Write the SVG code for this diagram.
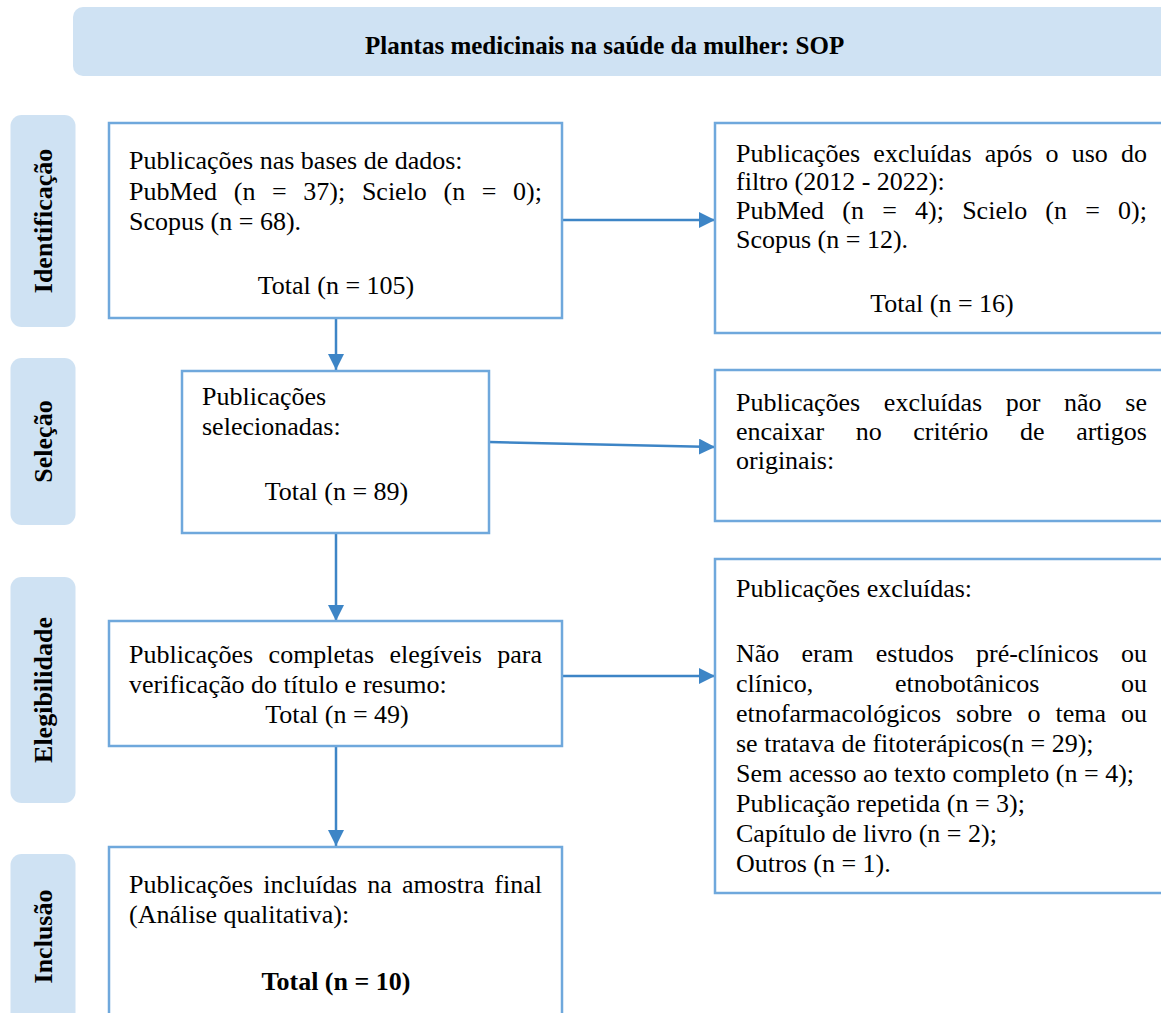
<svg xmlns="http://www.w3.org/2000/svg" width="1161" height="1013" viewBox="0 0 1161 1013">
<defs>
<style>
.pill{fill:#CFE2F3;}
.box{fill:#FFFFFF;stroke:#6FA8DC;stroke-width:2.5;}
.t{font-family:"Liberation Serif","Times New Roman",serif;font-size:26px;fill:#000;}
.b{font-weight:bold;}
.c{text-anchor:middle;}
.conn{stroke:#3D85C6;stroke-width:2.5;fill:none;marker-end:url(#ah);}
</style>
<marker id="ah" markerUnits="userSpaceOnUse" markerWidth="16" markerHeight="16" viewBox="0 0 16 16" refX="16" refY="8" orient="auto">
<path d="M0,0 L16,8 L0,16 Z" fill="#3D85C6"/>
</marker>
</defs>
<rect width="1161" height="1013" fill="#FFFFFF"/>

<g id="title">
<rect x="73" y="7" width="1110" height="69" rx="10" class="pill"/>
<text x="365" y="54" class="t b" style="font-size:25px">Plantas medicinais na saúde da mulher: SOP</text>
</g>

<g id="stage-identificacao">
<rect x="10.5" y="115" width="65" height="212" rx="11" class="pill"/>
<text transform="translate(52,221) rotate(-90)" class="t b c">Identificação</text>
</g>
<g id="stage-selecao">
<rect x="10.5" y="358" width="65" height="167" rx="11" class="pill"/>
<text transform="translate(52,441.5) rotate(-90)" class="t b c">Seleção</text>
</g>
<g id="stage-elegibilidade">
<rect x="10.5" y="577" width="65" height="226" rx="11" class="pill"/>
<text transform="translate(52,690) rotate(-90)" class="t b c">Elegibilidade</text>
</g>
<g id="stage-inclusao">
<rect x="10.5" y="854" width="65" height="180" rx="11" class="pill"/>
<text transform="translate(52,936.5) rotate(-90)" class="t b c">Inclusão</text>
</g>

<g id="connectors">
<line x1="562" y1="220" x2="715" y2="220" class="conn"/>
<line x1="336" y1="318" x2="336" y2="370" class="conn"/>
<line x1="489" y1="442" x2="715" y2="447" class="conn"/>
<line x1="336" y1="533" x2="336" y2="621" class="conn"/>
<line x1="562" y1="676" x2="715" y2="676" class="conn"/>
<line x1="336" y1="746" x2="336" y2="846" class="conn"/>
</g>

<g id="box-identificacao">
<rect x="109" y="123" width="453" height="195" class="box"/>
<text x="129" y="169" class="t">Publicações nas bases de dados:</text>
<text x="129" y="199.5" class="t" word-spacing="10.14">PubMed (n = 37); Scielo (n = 0);</text>
<text x="129" y="230" class="t">Scopus (n = 68).</text>
<text x="336" y="294" class="t c">Total (n = 105)</text>
</g>

<g id="box-excluidas-filtro">
<rect x="715" y="123" width="460" height="210" class="box"/>
<text x="736" y="162" class="t" word-spacing="6.66">Publicações excluídas após o uso do</text>
<text x="736" y="190" class="t">filtro (2012 - 2022):</text>
<text x="736" y="219" class="t" word-spacing="11.71">PubMed (n = 4); Scielo (n = 0);</text>
<text x="736" y="248" class="t">Scopus (n = 12).</text>
<text x="942" y="312" class="t c">Total (n = 16)</text>
</g>

<g id="box-selecao">
<rect x="182" y="371" width="307" height="162" class="box"/>
<text x="202" y="405" class="t">Publicações</text>
<text x="202" y="435" class="t">selecionadas:</text>
<text x="336.5" y="500" class="t c">Total (n = 89)</text>
</g>

<g id="box-excluidas-criterio">
<rect x="715" y="370" width="460" height="151" class="box"/>
<text x="736" y="411" class="t" word-spacing="17.18">Publicações excluídas por não se</text>
<text x="736" y="440" class="t" word-spacing="25.13">encaixar no critério de artigos</text>
<text x="736" y="469" class="t">originais:</text>
</g>

<g id="box-elegibilidade">
<rect x="109" y="621" width="453" height="125" class="box"/>
<text x="129" y="663" class="t" word-spacing="8.9">Publicações completas elegíveis para</text>
<text x="129" y="693" class="t">verificação do título e resumo:</text>
<text x="337" y="723" class="t c">Total (n = 49)</text>
</g>

<g id="box-excluidas-final">
<rect x="715" y="559" width="460" height="334" class="box"/>
<text x="736" y="597" class="t">Publicações excluídas:</text>
<text x="736" y="662" class="t" word-spacing="15.74">Não eram estudos pré-clínicos ou</text>
<text x="736" y="692" class="t" word-spacing="75.15">clínico, etnobotânicos ou</text>
<text x="736" y="722" class="t" word-spacing="8.52">etnofarmacológicos sobre o tema ou</text>
<text x="736" y="752" class="t">se tratava de fitoterápicos(n = 29);</text>
<text x="736" y="782" class="t">Sem acesso ao texto completo (n = 4);</text>
<text x="736" y="812" class="t">Publicação repetida (n = 3);</text>
<text x="736" y="842" class="t">Capítulo de livro (n = 2);</text>
<text x="736" y="872" class="t">Outros (n = 1).</text>
</g>

<g id="box-inclusao">
<rect x="109" y="847" width="453" height="190" class="box"/>
<text x="129" y="893" class="t" word-spacing="3.6">Publicações incluídas na amostra final</text>
<text x="129" y="923" class="t">(Análise qualitativa):</text>
<text x="336" y="990" class="t b c">Total (n = 10)</text>
</g>
</svg>
